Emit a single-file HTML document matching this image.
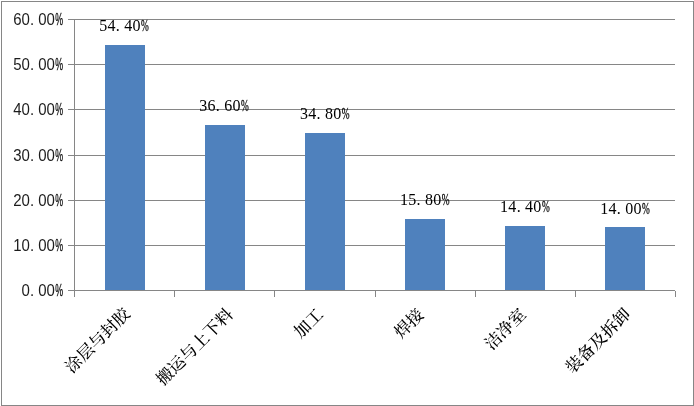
<!DOCTYPE html>
<html lang="zh-CN"><head><meta charset="utf-8"><title>chart</title>
<style>
html,body{margin:0;padding:0;background:#fff;}
svg{display:block;}
.ynum{font-family:"Liberation Sans",sans-serif;font-size:15px;fill:#1c1c1c;}
.pct{stroke:#000;stroke-width:.3px;}
.dnum{font-family:"Liberation Serif",serif;font-size:16px;fill:#000;}
.cat{font-family:"Liberation Serif","Noto Serif CJK SC",serif;font-size:16.67px;font-weight:500;fill:#000;}
</style></head><body>
<svg width="694" height="406" viewBox="0 0 694 406">
<rect x="0" y="0" width="694" height="406" fill="#ffffff"/>
<rect x="1.5" y="1.5" width="692" height="404" fill="none" stroke="#868686" stroke-width="1"/>

<rect x="68" y="19" width="607" height="1" fill="#868686"/>
<rect x="68" y="64" width="607" height="1" fill="#868686"/>
<rect x="68" y="109" width="607" height="1" fill="#868686"/>
<rect x="68" y="155" width="607" height="1" fill="#868686"/>
<rect x="68" y="200" width="607" height="1" fill="#868686"/>
<rect x="68" y="245" width="607" height="1" fill="#868686"/>
<rect x="68" y="290" width="607" height="1" fill="#868686"/>
<rect x="74" y="19" width="1" height="278" fill="#868686"/>
<rect x="174" y="290" width="1" height="7" fill="#868686"/>
<rect x="274" y="290" width="1" height="7" fill="#868686"/>
<rect x="375" y="290" width="1" height="7" fill="#868686"/>
<rect x="475" y="290" width="1" height="7" fill="#868686"/>
<rect x="575" y="290" width="1" height="7" fill="#868686"/>
<rect x="675" y="291" width="1" height="6" fill="#868686"/>
<rect x="105" y="45" width="40" height="245" fill="#4F81BD"/>
<rect x="205" y="125" width="40" height="165" fill="#4F81BD"/>
<rect x="305" y="133" width="40" height="157" fill="#4F81BD"/>
<rect x="405" y="219" width="40" height="71" fill="#4F81BD"/>
<rect x="505" y="226" width="40" height="64" fill="#4F81BD"/>
<rect x="605" y="227" width="40" height="63" fill="#4F81BD"/>
<text class="ynum" transform="translate(0,24.9) scale(1,1.04)" y="0" x="13.26 21.60 29.94 38.28 46.62">60.00<tspan class="pct" x="55.16" textLength="7.8" lengthAdjust="spacingAndGlyphs">%</tspan></text>
<text class="ynum" transform="translate(0,69.9) scale(1,1.04)" y="0" x="13.26 21.60 29.94 38.28 46.62">50.00<tspan class="pct" x="55.16" textLength="7.8" lengthAdjust="spacingAndGlyphs">%</tspan></text>
<text class="ynum" transform="translate(0,114.9) scale(1,1.04)" y="0" x="13.26 21.60 29.94 38.28 46.62">40.00<tspan class="pct" x="55.16" textLength="7.8" lengthAdjust="spacingAndGlyphs">%</tspan></text>
<text class="ynum" transform="translate(0,160.9) scale(1,1.04)" y="0" x="13.26 21.60 29.94 38.28 46.62">30.00<tspan class="pct" x="55.16" textLength="7.8" lengthAdjust="spacingAndGlyphs">%</tspan></text>
<text class="ynum" transform="translate(0,205.9) scale(1,1.04)" y="0" x="13.26 21.60 29.94 38.28 46.62">20.00<tspan class="pct" x="55.16" textLength="7.8" lengthAdjust="spacingAndGlyphs">%</tspan></text>
<text class="ynum" transform="translate(0,250.9) scale(1,1.04)" y="0" x="13.26 21.60 29.94 38.28 46.62">10.00<tspan class="pct" x="55.16" textLength="7.8" lengthAdjust="spacingAndGlyphs">%</tspan></text>
<text class="ynum" transform="translate(0,295.9) scale(1,1.04)" y="0" x="21.60 29.94 38.28 46.62">0.00<tspan class="pct" x="55.16" textLength="7.8" lengthAdjust="spacingAndGlyphs">%</tspan></text>
<text class="dnum" y="30.8" x="99.16 107.50 115.84 124.18 132.52">54.40<tspan class="pct" x="141.06" textLength="7.8" lengthAdjust="spacingAndGlyphs">%</tspan></text>
<text class="dnum" y="110.8" x="199.16 207.50 215.84 224.18 232.52">36.60<tspan class="pct" x="241.06" textLength="7.8" lengthAdjust="spacingAndGlyphs">%</tspan></text>
<text class="dnum" y="118.8" x="299.91 308.25 316.59 324.93 333.27">34.80<tspan class="pct" x="341.81" textLength="7.8" lengthAdjust="spacingAndGlyphs">%</tspan></text>
<text class="dnum" y="204.8" x="399.91 408.25 416.59 424.93 433.27">15.80<tspan class="pct" x="441.81" textLength="7.8" lengthAdjust="spacingAndGlyphs">%</tspan></text>
<text class="dnum" y="211.8" x="500.01 508.35 516.69 525.03 533.37">14.40<tspan class="pct" x="541.91" textLength="7.8" lengthAdjust="spacingAndGlyphs">%</tspan></text>
<text class="dnum" y="213.55" x="600.16 608.50 616.84 625.18 633.52">14.00<tspan class="pct" x="642.06" textLength="7.8" lengthAdjust="spacingAndGlyphs">%</tspan></text>
<text class="cat" text-anchor="end" transform="translate(131,315) rotate(-45)">涂层与封胶</text>
<text class="cat" text-anchor="end" transform="translate(234,315.5) rotate(-45)">搬运与上下料</text>
<text class="cat" text-anchor="end" transform="translate(324.4,315.5) rotate(-45)">加工</text>
<text class="cat" text-anchor="end" transform="translate(424.7,315.7) rotate(-45)">焊接</text>
<text class="cat" text-anchor="end" transform="translate(527,315.5) rotate(-45)">洁净室</text>
<text class="cat" text-anchor="end" transform="translate(631.5,315.3) rotate(-45)">装备及拆卸</text>
</svg></body></html>
